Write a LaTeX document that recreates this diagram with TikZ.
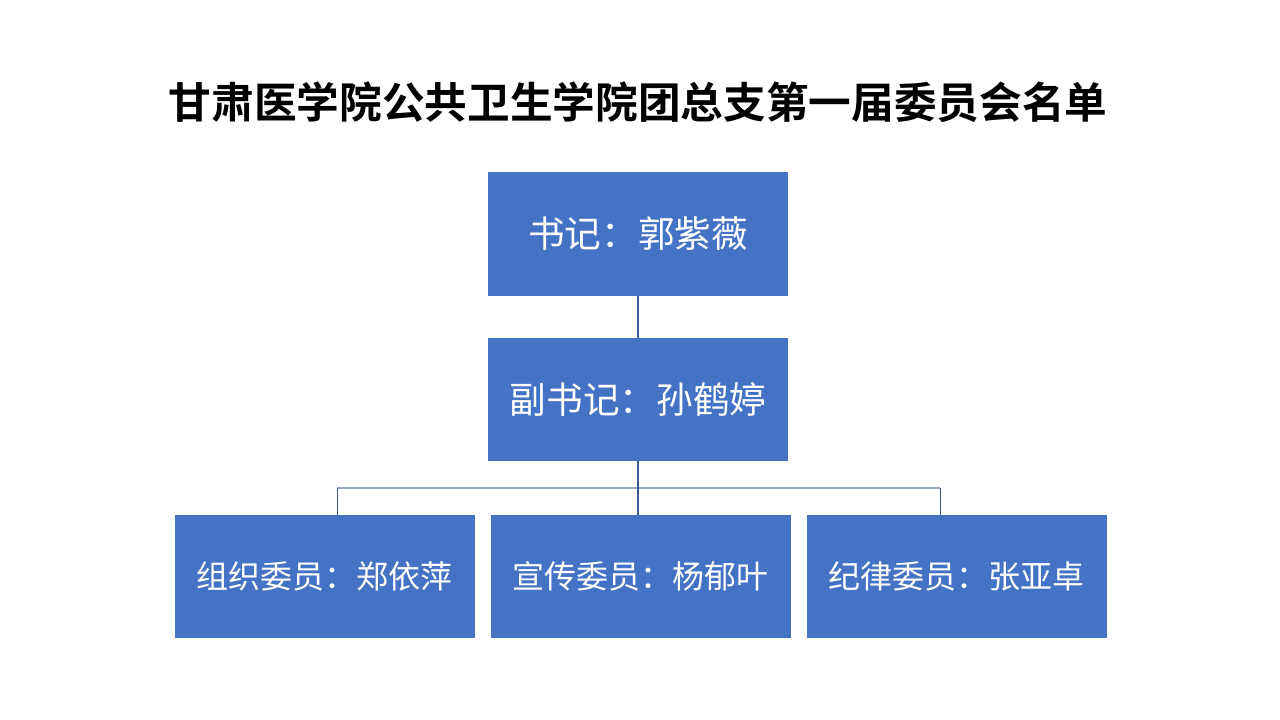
\documentclass[tikz,border=0pt]{standalone}
\usepackage{fontspec}
\usepackage{xcolor}
\newfontfamily\cjk{Noto Sans CJK SC}
\newfontfamily\cjkbold{Noto Sans CJK SC Bold}
\definecolor{boxblue}{HTML}{4472C4}
\definecolor{linedark}{HTML}{3A5A94}
\definecolor{linelight}{HTML}{9AA9C6}

\begin{document}
\begin{tikzpicture}[x=0.75pt,y=-0.75pt]
		\tikzstyle{member}=[fill=boxblue, text=white, minimum width=225pt, minimum height=92.5pt, inner sep=0pt, font=\cjk\fontsize{24}{28}\selectfont]
		\tikzstyle{leader}=[member, font=\cjk\fontsize{27.5}{32}\selectfont]
		\useasboundingbox [fill=white] (0,0) rectangle (1280,720);
		\node (title) at (638,102) {\cjkbold\fontsize{32}{38}\selectfont 甘肃医学院公共卫生学院团总支第一届委员会名单};
		\node [leader] (secretary) at (638,234) {书记：郭紫薇};
		\node [leader] (deputy) at (638,399.5) {副书记：孙鹤婷};
		\node [member] (org) at (324.5,576.5) {组织委员：郑依萍};
		\node [member] (pub) at (640.5,576.5) {宣传委员：杨郁叶};
		\node [member] (disc) at (956.5,576.5) {纪律委员：张亚卓};
		\coordinate (barl) at (337,488);
		\coordinate (barr) at (940,488);
		% connectors
		\draw [linedark, line width=0.9pt] (secretary.south) -- (deputy.north);
		\draw [linelight, line width=1.2pt] (barl) -- (barr);
		\draw [linedark, line width=0.9pt] (deputy.south) -- (deputy.south |- pub.north);
		\draw [linedark, line width=0.6pt] (barl) -- (barl |- org.north);
		\draw [linedark, line width=0.6pt] (barr) -- (barr |- disc.north);
	\end{tikzpicture}
\end{document}
